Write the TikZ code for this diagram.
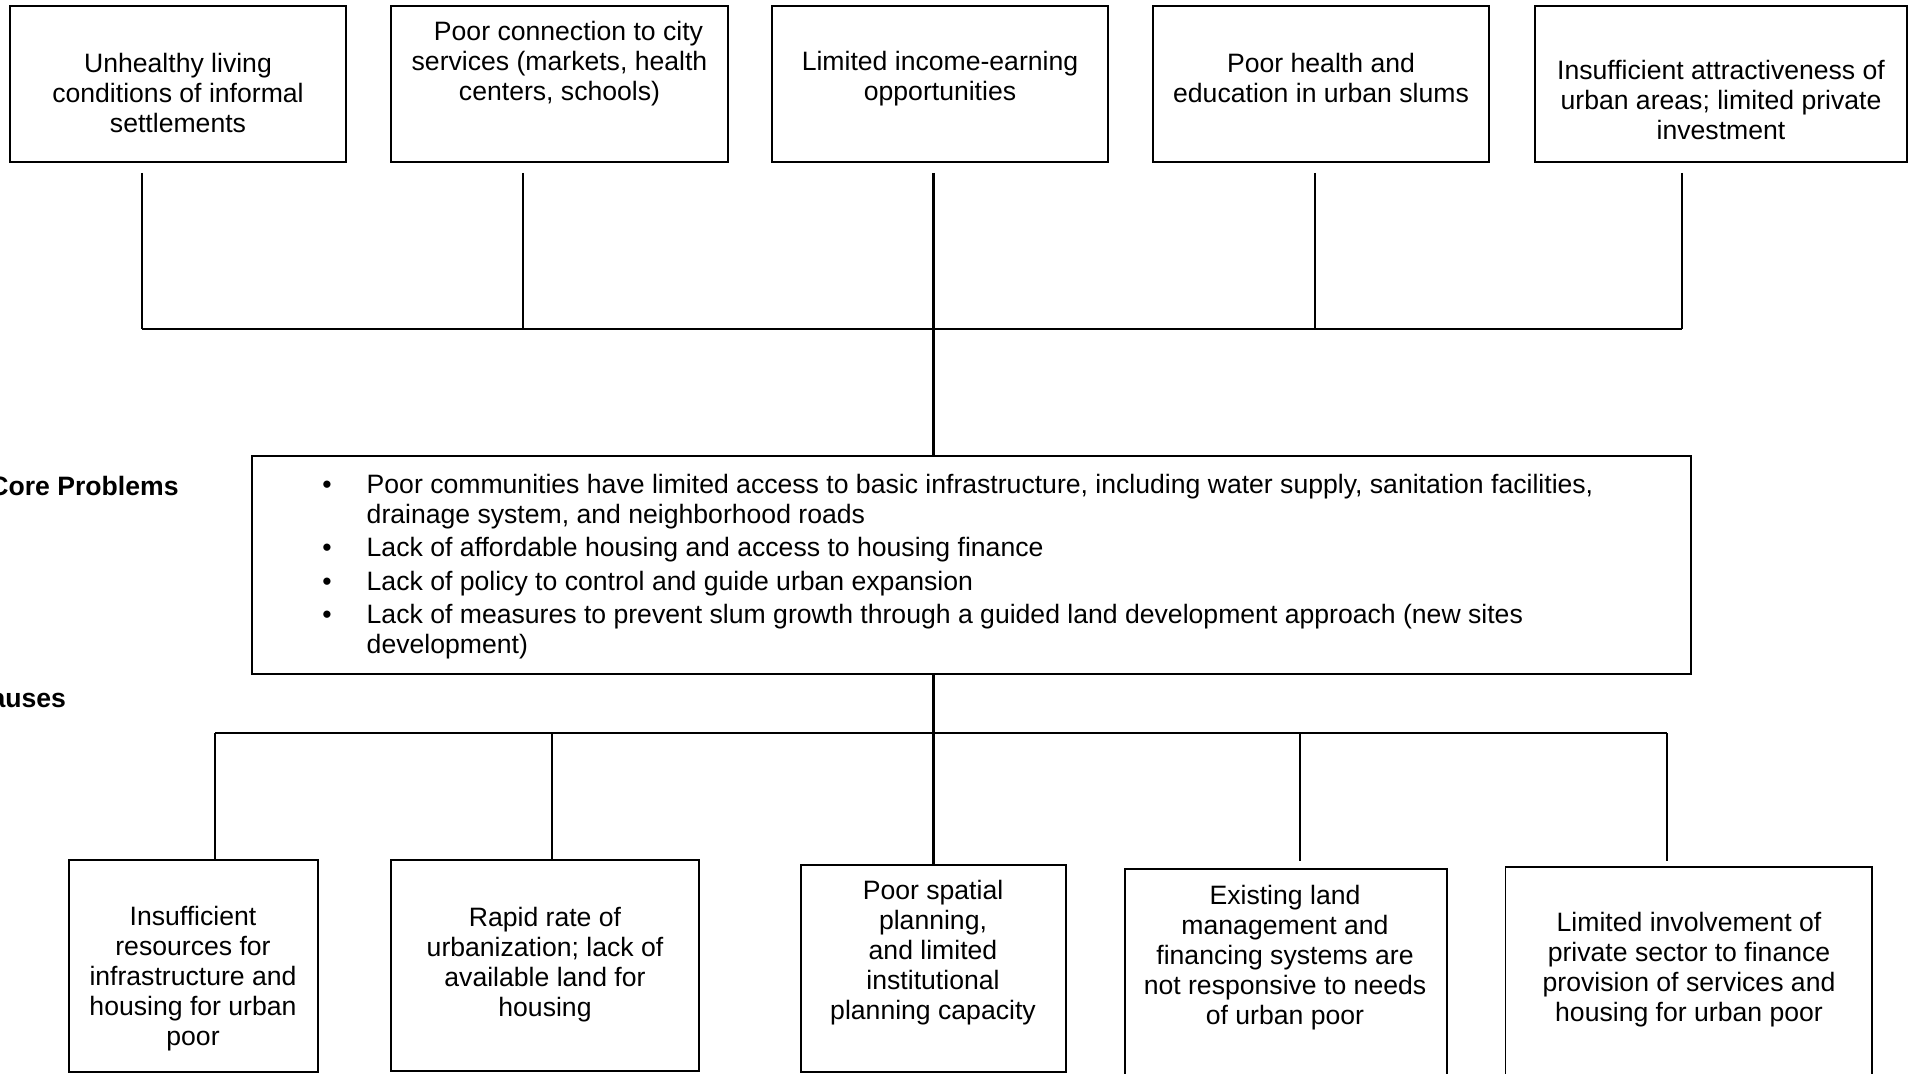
\documentclass[tikz,border=0pt]{standalone}
\usepackage{fontspec}
\setmainfont{Liberation Sans}
\usepackage{tikz}

\begin{document}
\begin{tikzpicture}[
  x=0.5pt, y=-0.5pt,
  frame/.style={rectangle, draw, line width=0.9pt, inner sep=0pt},
  txt/.style={align=center, inner sep=0pt, font=\fontsize{13.3}{15}\selectfont},
  side/.style={anchor=base west, inner sep=0pt, font=\fontsize{13.3}{15}\selectfont\bfseries},
  link/.style={line width=1.25pt}
]
\path[use as bounding box, clip] (0,0) rectangle (1916,1074);

\node[frame, minimum width=168pt,   minimum height=78pt] (b1) at (178,84)   {};
\node[frame, minimum width=168.5pt, minimum height=78pt] (b2) at (559.5,84) {};
\node[frame, minimum width=168pt,   minimum height=78pt] (b3) at (940,84)   {};
\node[frame, minimum width=168pt,   minimum height=78pt] (b4) at (1321,84)  {};
\node[frame, minimum width=186pt,   minimum height=78pt] (b5) at (1721,84)  {};

\node[txt] (b1t) at (178,93)   {Unhealthy living\\conditions of informal\\settlements};
\node[txt] (b2t) at (559.5,64) {\hspace*{9pt}Poor connection to city\\services (markets, health\\centers, schools)};
\node[txt] (b3t) at (940,79)   {Limited income-earning\\opportunities};
\node[txt] (b4t) at (1321,78)  {Poor health and\\education in urban slums};
\node[txt] (b5t) at (1721,100) {Insufficient attractiveness of\\urban areas; limited private\\investment};

\node[frame, minimum width=719.5pt, minimum height=109pt] (core) at (971.5,565) {};
\node[txt, anchor=west] (coret) at (322,567.5) {%
  \begin{tabular}{@{}l@{\hspace{17.5pt}}l@{}}
  \textbullet & Poor communities have limited access to basic infrastructure, including water supply, sanitation facilities,\\
              & drainage system, and neighborhood roads\\[1.6pt]
  \textbullet & Lack of affordable housing and access to housing finance\\[1.6pt]
  \textbullet & Lack of policy to control and guide urban expansion\\[1.6pt]
  \textbullet & Lack of measures to prevent slum growth through a guided land development approach (new sites\\
              & development)
  \end{tabular}};

\node[side] (lcore)   at (-11,496) {Core Problems};
\node[side] (lcauses) at (-29,707) {Causes};

\node[frame, minimum width=124.5pt, minimum height=106pt]   (c1) at (193.3,966)  {};
\node[frame, minimum width=154pt,   minimum height=105.5pt] (c2) at (544.7,965.4) {};
\node[frame, minimum width=132.3pt, minimum height=103.4pt] (c3) at (933.3,968.3) {};
\node[frame, minimum width=161pt,   minimum height=110.4pt] (c4) at (1285.8,979.6) {};
\node[frame, minimum width=183.4pt, minimum height=111.7pt] (c5) at (1688.9,978.3) {};

\node[txt] (c1t) at (193,979)  {Insufficient\\resources for\\infrastructure and\\housing for urban\\poor};
\node[txt] (c2t) at (545,965)  {Rapid rate of\\urbanization; lack of\\available land for\\housing};
\node[txt] (c3t) at (933,953)  {Poor spatial\\planning,\\and limited\\institutional\\planning capacity};
\node[txt] (c4t) at (1285,958) {Existing land\\management and\\financing systems are\\not responsive to needs\\of urban poor};
\node[txt] (c5t) at (1689,970) {Limited involvement of\\private sector to finance\\provision of services and\\housing for urban poor};

\coordinate (u1) at (142,173);
\coordinate (u2) at (523,173);
\coordinate (u3) at (933.5,173);
\coordinate (u4) at (1315,173);
\coordinate (u5) at (1682,173);
\coordinate (h1) at (142,329);
\coordinate (h2) at (523,329);
\coordinate (h3) at (933.5,329);
\coordinate (h4) at (1315,329);
\coordinate (h5) at (1682,329);

\coordinate (k1) at (215,733);
\coordinate (k2) at (552,733);
\coordinate (k3) at (933.5,733);
\coordinate (k4) at (1300,733);
\coordinate (k5) at (1667,733);
\coordinate (e4) at (1300,861);
\coordinate (e5) at (1667,861);

\draw[link] (u1) -- (h1);
\draw[link] (u2) -- (h2);
\draw[link] (u3) -- (h3);
\draw[link] (u4) -- (h4);
\draw[link] (u5) -- (h5);
\draw[link] (h1) -- (h5);
\draw[link] (h3) -- (h3 |- core.north);

\draw[link] (k3 |- core.south) -- (k3);
\draw[link] (k1) -- (k5);
\draw[link] (k1) -- (k1 |- c1.north);
\draw[link] (k2) -- (k2 |- c2.north);
\draw[link] (k3) -- (k3 |- c3.north);
\draw[link] (k4) -- (e4);
\draw[link] (k5) -- (e5);
\end{tikzpicture}
\end{document}
